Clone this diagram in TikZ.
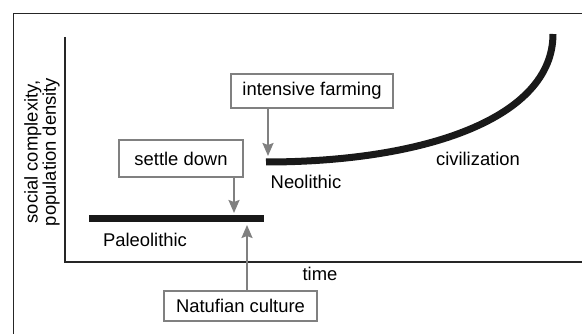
\documentclass[tikz,border=0pt]{standalone}
\usepackage{fontspec}
\setmainfont{Liberation Sans}
\usepackage{tikz}
\usetikzlibrary{arrows.meta}

\begin{document}
\begin{tikzpicture}[x=1pt, y=-1pt, font=\fontsize{18.4}{18.4}\selectfont,
        event/.style = {draw=gray, line width=2pt, fill=white, minimum height=34pt, inner sep=0pt},
        pointer/.style = {draw=gray, line width=2pt, -{Stealth[length=13pt, width=11pt, inset=2pt]}},
        era/.style = {line width=7pt, black!90},
        axis/.style = {line width=2.5pt, black!85}]

        \useasboundingbox (0,0) rectangle (582,334);

        % frame
        \draw[line width=1.5pt, black!85] (13.5,334) -- (13.5,13.5) -- (582,13.5);

        % axes
        \coordinate (top) at (65,37);
        \coordinate (origin) at (65,262);
        \coordinate (right) at (582,262);
        \draw[axis] (top) -- (origin) -- (right);
        \node[rotate=90, align=center, font=\fontsize{18.4}{16}\selectfont] (ylabel) at (42,152) {social complexity,\\ population density};
        \node (time) at (320,274) {time};

        % eras
        \coordinate (paleoA) at (89,219);
        \coordinate (paleoB) at (264,219);
        \draw[era] (paleoA) -- (paleoB);
        \node (paleo) at (145,240) {Paleolithic};

        \coordinate (neoA) at (266,162);
        \coordinate (neoB) at (553,34);
        \draw[era] (neoA) .. controls (425,162) and (553,118) .. (neoB);
        \node (neo) at (306,182) {Neolithic};
        \node (civ) at (478,159) {civilization};

        % events
        \node[event, minimum width=162pt] (farm) at (312,91) {intensive farming};
        \node[event, minimum width=124pt, minimum height=37pt] (settle) at (181,158.5) {settle down};
        \node[event, minimum width=153pt, minimum height=30pt] (natuf) at (240.5,306) {Natufian culture};

        \coordinate (farmtip) at (268,156);
        \coordinate (settletip) at (234,213);
        \coordinate (natuftip) at (247,225);
        \draw[pointer] (farm.south -| farmtip) -- (farmtip);
        \draw[pointer] (settle.south -| settletip) -- (settletip);
        \draw[pointer] (natuf.north -| natuftip) -- (natuftip);
\end{tikzpicture}
\end{document}
